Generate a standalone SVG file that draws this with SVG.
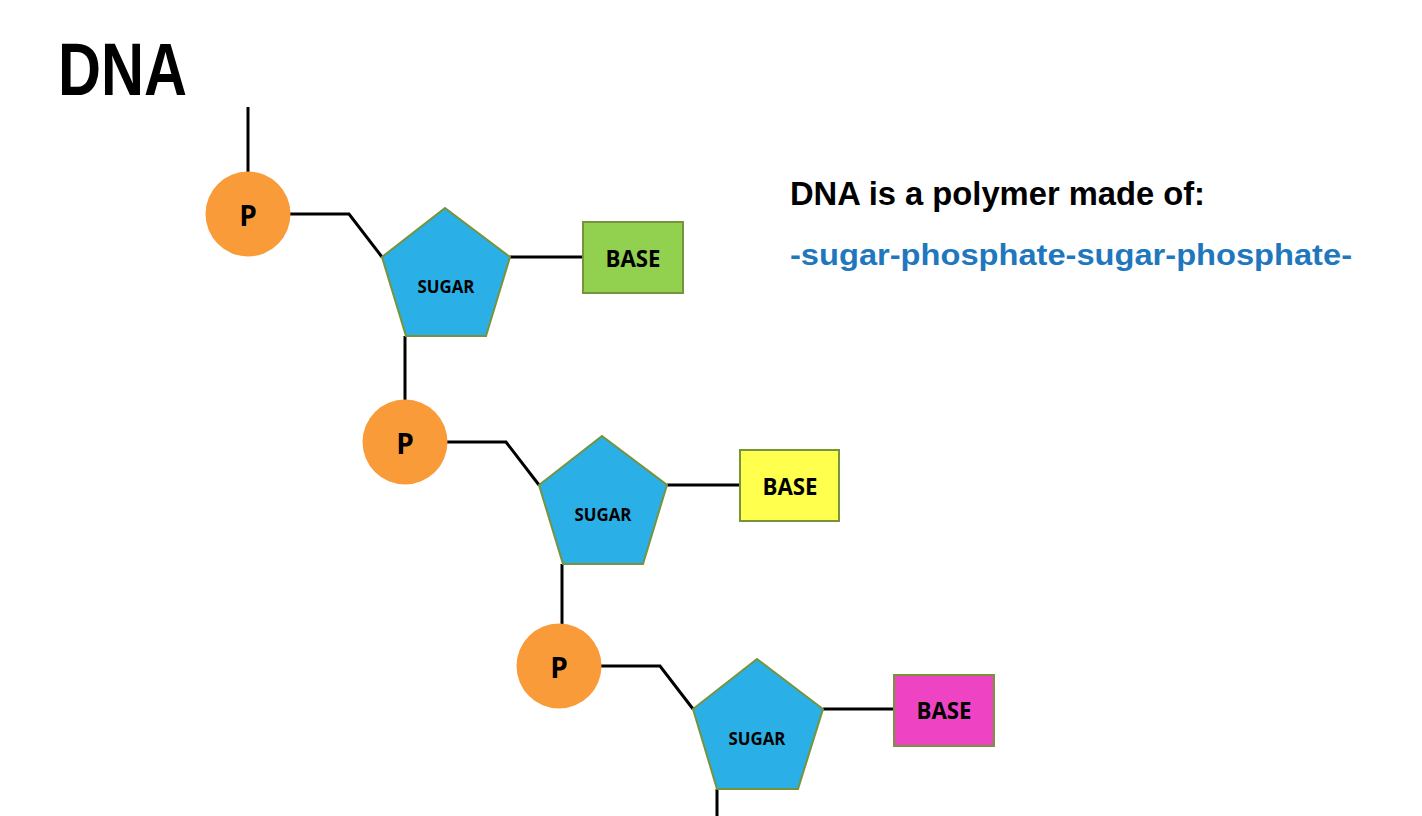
<svg xmlns="http://www.w3.org/2000/svg" width="1422" height="816" viewBox="0 0 1422 816">
<style>
.bond{stroke:#000;stroke-width:3;fill:none}
.p{fill:#F99B38}
.sugar{fill:#2AB0E6;stroke:#77933C;stroke-width:2}
.base{stroke:#77933C;stroke-width:2}
.lbl{font-family:"Open Sans","Noto Sans",sans-serif;font-weight:bold;fill:#000;text-anchor:middle}
.pt{font-size:28px}
.st{font-size:17px}
.bt{font-size:23px}
.hd{font-family:"Liberation Sans",Arial,sans-serif;font-weight:bold}
</style>
<rect width="1422" height="816" fill="#fff"/>
<text class="hd" x="58" y="95" font-size="74" textLength="129" lengthAdjust="spacingAndGlyphs">DNA</text>
<text class="hd" x="790" y="205" font-size="34" textLength="415" lengthAdjust="spacingAndGlyphs">DNA is a polymer made of:</text>
<text class="hd" x="790" y="265" font-size="30" fill="#1F77BD" textLength="562" lengthAdjust="spacingAndGlyphs">-sugar-phosphate-sugar-phosphate-</text>
<g id="connectors">
<path class="bond" d="M248,107 V172"/>
<path class="bond" d="M290,214 H349 L382,257"/>
<path class="bond" d="M510,257 H583"/>
<path class="bond" d="M405,336 V401"/>
<path class="bond" d="M447,442 H506 L539,485"/>
<path class="bond" d="M667,485 H740"/>
<path class="bond" d="M562,564 V626"/>
<path class="bond" d="M601,666 H660 L693,709"/>
<path class="bond" d="M823,709 H894"/>
<path class="bond" d="M717,789 V816"/>
</g>
<g id="p1"><circle class="p" cx="248" cy="214" r="42.5"/><text class="lbl pt" x="248" y="226">P</text></g>
<g id="sugar1"><polygon class="sugar" points="445,208 510,257 486,336 406,336 382,257"/><text class="lbl st" x="446" y="293" textLength="57" lengthAdjust="spacingAndGlyphs">SUGAR</text></g>
<g id="base1"><rect class="base" x="583" y="222" width="100" height="71" fill="#92D050"/><text class="lbl bt" x="633" y="267" textLength="55" lengthAdjust="spacingAndGlyphs">BASE</text></g>
<g id="p2"><circle class="p" cx="405" cy="442" r="42.5"/><text class="lbl pt" x="405" y="454">P</text></g>
<g id="sugar2"><polygon class="sugar" points="602,436 667,485 643,564 563,564 539,485"/><text class="lbl st" x="603" y="521" textLength="57" lengthAdjust="spacingAndGlyphs">SUGAR</text></g>
<g id="base2"><rect class="base" x="740" y="450" width="99" height="71" fill="#FFFF4D"/><text class="lbl bt" x="790" y="495" textLength="55" lengthAdjust="spacingAndGlyphs">BASE</text></g>
<g id="p3"><circle class="p" cx="559" cy="666" r="42.5"/><text class="lbl pt" x="559" y="678">P</text></g>
<g id="sugar3"><polygon class="sugar" points="757,659 823,709 798,789 717,789 693,709"/><text class="lbl st" x="757" y="745" textLength="57" lengthAdjust="spacingAndGlyphs">SUGAR</text></g>
<g id="base3"><rect class="base" x="894" y="675" width="100" height="71" fill="#EE44C4"/><text class="lbl bt" x="944" y="719" textLength="55" lengthAdjust="spacingAndGlyphs">BASE</text></g>
</svg>
